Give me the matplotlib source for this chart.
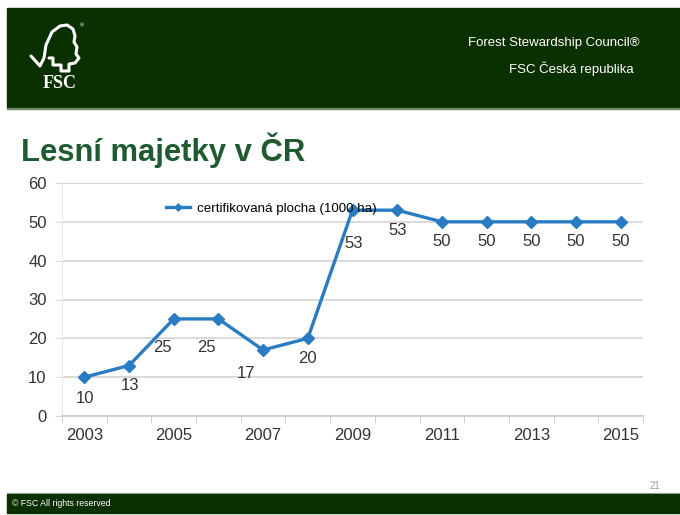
import matplotlib
matplotlib.use("Agg")
import matplotlib.pyplot as plt
from matplotlib.patches import Rectangle
from matplotlib.path import Path
from matplotlib.patches import PathPatch

years = [2003, 2004, 2005, 2006, 2007, 2008, 2009, 2010, 2011, 2012, 2013, 2014, 2015]
values = [10, 13, 25, 25, 17, 20, 53, 53, 50, 50, 50, 50, 50]
series_name = "certifikovaná plocha (1000 ha)"
title = "Lesní majetky v ČR"
yticks = [0, 10, 20, 30, 40, 50, 60]

plt.rcParams['font.family'] = ['Liberation Sans', 'DejaVu Sans']

W, H = 680, 515
fig = plt.figure(figsize=(W / 100, H / 100), dpi=100)
fig.patch.set_facecolor('white')

# background overlay in pixel coordinates
bg = fig.add_axes([0, 0, 1, 1], zorder=0)
bg.set_xlim(0, W)
bg.set_ylim(H, 0)
bg.axis('off')
green = '#0b3000'
bg.add_patch(Rectangle((7, 8), W - 7, 100, color=green))
bg.add_patch(Rectangle((7, 107.5), W - 7, 1.8, color='#6f8a6a'))
bg.add_patch(Rectangle((7, 492.5), W - 7, 1.5, color='#b5bdb2'))
bg.add_patch(Rectangle((7, 494), W - 7, 19, color=green))

# FSC logo (simplified)
logo = [(31, 56), (40, 66), (44, 58), (46, 45), (52, 32), (60, 26), (67, 25),
        (73, 29), (75, 36), (74, 42), (77, 47), (76, 54), (79, 58), (75, 63),
        (69, 64), (69, 71), (61, 71), (61, 65), (53, 65), (53, 58), (49, 58)]
codes = [Path.MOVETO] + [Path.LINETO] * (len(logo) - 1)
bg.add_patch(PathPatch(Path(logo, codes), fill=False, edgecolor='white', lw=2.2,
                       joinstyle='round', capstyle='round'))
bg.text(82, 26, '®', color='white', fontsize=4, ha='center', va='center')
bg.text(60, 84, 'FSC', color='white', fontsize=13, fontweight='bold',
        family='Liberation Serif', ha='center', va='center')

bg.text(640, 43, 'Forest Stewardship Council®', color='white', fontsize=9.5,
        ha='right', va='center')
bg.text(634, 69, 'FSC Česká republika', color='white', fontsize=9.5,
        ha='right', va='center')
bg.text(12, 504, '© FSC All rights reserved', color='white', fontsize=6.3,
        ha='left', va='center')
bg.text(655, 486, '21', color='#999999', fontsize=7, ha='center', va='center')

bg.text(21, 150, title, color='#1f5a30', fontsize=22.3, fontweight='bold',
        ha='left', va='center')

# chart
ax = fig.add_axes([62 / W, 1 - 416 / H, (643 - 62) / W, (416 - 183) / H], zorder=2)
ax.patch.set_alpha(0)
x = list(range(len(years)))
blue = '#2a7cc2'
line, = ax.plot(x, values, color=blue, lw=2.4, marker='D', markersize=6,
                label=series_name, zorder=3)
ax.set_xlim(-0.5, len(years) - 0.5)
ax.set_ylim(0, 60)
ax.set_yticks(yticks)
ax.yaxis.grid(True, color='#d9d9d9', lw=1.4)
ax.set_axisbelow(True)
for s in ['top', 'right']:
    ax.spines[s].set_visible(False)
ax.spines['left'].set_color('#e6e6e6')
ax.spines['bottom'].set_color('#c8c8c8')
ax.spines['bottom'].set_linewidth(1.2)
ax.set_xticks([i for i in x if i % 2 == 0])
ax.set_xticklabels([str(years[i]) for i in x if i % 2 == 0])
ax.set_xticks([i - 0.5 for i in range(len(years) + 1)], minor=True)
ax.tick_params(axis='x', which='major', length=0, labelsize=12, labelcolor='#333333', pad=9)
ax.tick_params(axis='x', which='minor', length=5, color='#c8c8c8')
ax.tick_params(axis='y', length=5, color='#d9d9d9', labelsize=12, labelcolor='#333333', pad=6)

# data label placement (pixels: dx right, dy down)
label_dx = [1, 1, -11, -12, -17, 0, 1, 0, 0, 0, 0, 0, 0]
label_dy = [21, 20, 29, 29, 24, 20, 33, 20, 20, 20, 20, 20, 20]
for xi, v, dx, dy in zip(x, values, label_dx, label_dy):
    ax.annotate(str(v), (xi, v), xytext=(dx * 0.72, -dy * 0.72), textcoords='offset points',
                ha='center', va='center', fontsize=12, color='#333333')

ax.legend(handles=[line], loc='center left', bbox_to_anchor=(0.17, 0.89),
          frameon=False, fontsize=9.6, handlelength=1.8, handletextpad=0.5,
          markerscale=0.6, borderaxespad=0)

fig.savefig('out.png', dpi=100, facecolor='white')
